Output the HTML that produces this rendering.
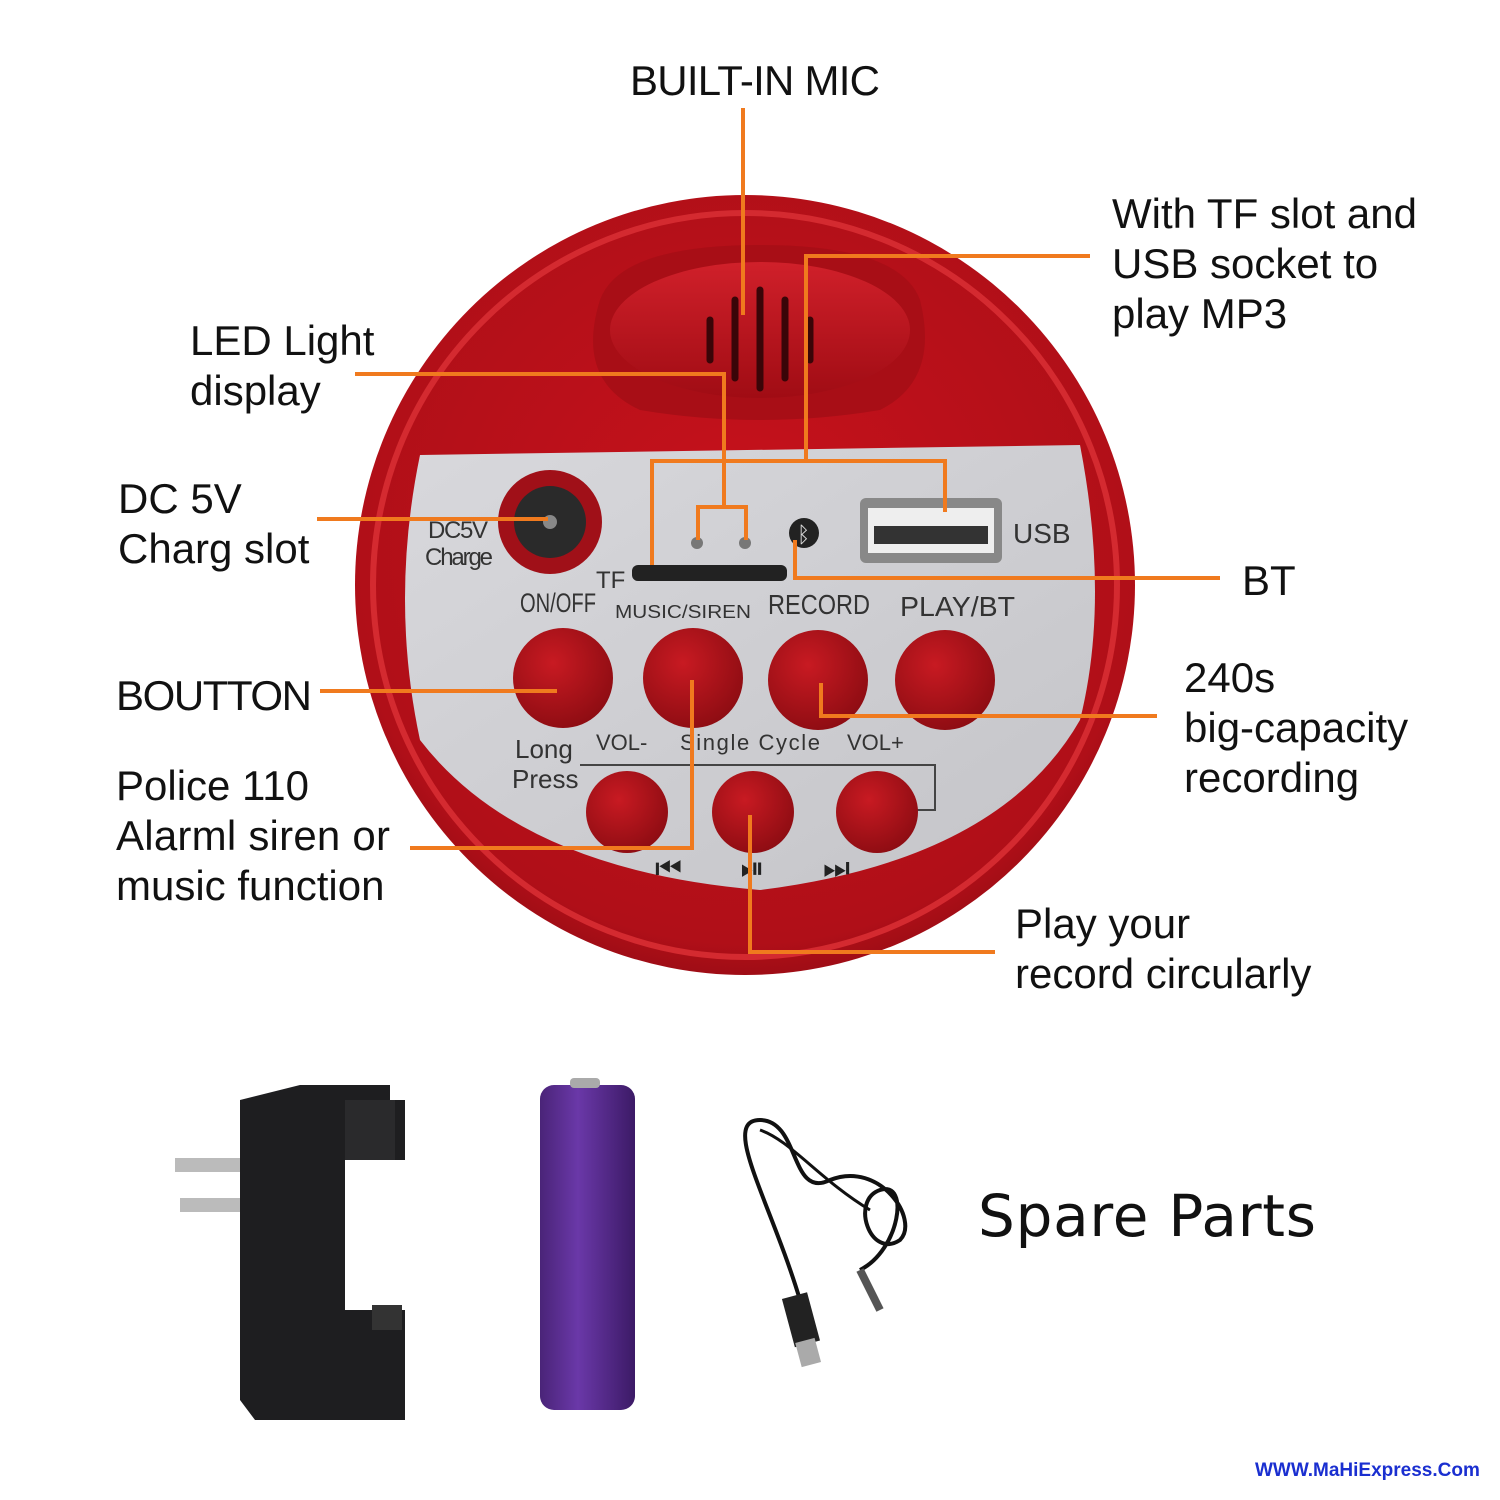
<!DOCTYPE html>
<html><head><meta charset="utf-8"><style>
html,body{margin:0;padding:0;background:#fff}
svg{display:block}
.t{font-family:"Liberation Sans",sans-serif;font-size:42px;fill:#111}
.s{font-family:"Liberation Sans",sans-serif;fill:#333}
.o{stroke:#f07a1e;stroke-width:4;fill:none}
</style></head><body>
<svg width="1500" height="1500" viewBox="0 0 1500 1500">
<defs>
<radialGradient id="rg" cx="0.5" cy="0.45" r="0.6"><stop offset="0" stop-color="#c8121c"/><stop offset="0.85" stop-color="#b00f18"/><stop offset="1" stop-color="#8a0a12"/></radialGradient>
<radialGradient id="bt" cx="0.4" cy="0.35" r="0.7"><stop offset="0" stop-color="#c81a22"/><stop offset="1" stop-color="#8c0c12"/></radialGradient>
<linearGradient id="sv" x1="0" y1="0" x2="1" y2="1"><stop offset="0" stop-color="#d8d8dc"/><stop offset="1" stop-color="#c4c4c8"/></linearGradient>
<linearGradient id="pur" x1="0" x2="1"><stop offset="0" stop-color="#4a2478"/><stop offset="0.4" stop-color="#6a38a8"/><stop offset="1" stop-color="#3c1a66"/></linearGradient>
<linearGradient id="mo" x1="0" y1="0" x2="0" y2="1"><stop offset="0" stop-color="#d0202a"/><stop offset="1" stop-color="#a00c14"/></linearGradient>
</defs>
<circle cx="745" cy="585" r="390" fill="url(#rg)"/>
<circle cx="745" cy="585" r="372" fill="none" stroke="#d42a30" stroke-width="6"/>
<path d="M600 300 Q620 245 760 245 Q900 245 920 300 Q940 380 880 410 Q760 430 640 410 Q575 380 600 300 Z" fill="#a80e16"/>
<ellipse cx="760" cy="330" rx="150" ry="68" fill="url(#mo)"/>
<g stroke="#3a0508" stroke-width="7" stroke-linecap="round">
<line x1="710" y1="320" x2="710" y2="360"/><line x1="735" y1="300" x2="735" y2="378"/><line x1="760" y1="290" x2="760" y2="388"/><line x1="785" y1="300" x2="785" y2="378"/><line x1="810" y1="320" x2="810" y2="360"/></g>
<path d="M420 455 L1080 445 Q1110 600 1080 720 Q1000 860 760 890 Q520 870 420 740 Q390 600 420 455 Z" fill="url(#sv)"/>
<circle cx="550" cy="522" r="52" fill="#a01018"/>
<circle cx="550" cy="522" r="36" fill="#2a2a2a"/>
<circle cx="550" cy="522" r="7" fill="#888"/>
<text class="s" x="428" y="538" font-size="24" textLength="60">DC5V</text>
<text class="s" x="425" y="565" font-size="24" textLength="68">Charge</text>
<circle cx="697" cy="543" r="6" fill="#777"/><circle cx="745" cy="543" r="6" fill="#777"/>
<rect x="632" y="565" width="155" height="16" rx="6" fill="#222"/>
<text class="s" x="596" y="588" font-size="24">TF</text>
<circle cx="804" cy="533" r="15" fill="#222"/><text x="797" y="542" font-size="22" fill="#ddd" font-family="DejaVu Sans">ᛒ</text>
<rect x="860" y="498" width="142" height="65" rx="6" fill="#888"/>
<rect x="868" y="508" width="126" height="45" fill="#eee"/>
<rect x="874" y="526" width="114" height="18" fill="#333"/>
<text class="s" x="1013" y="543" font-size="28">USB</text>
<text class="s" x="520" y="612" font-size="27" textLength="76" lengthAdjust="spacingAndGlyphs">ON/OFF</text>
<text class="s" x="615" y="618" font-size="18" textLength="136" lengthAdjust="spacingAndGlyphs">MUSIC/SIREN</text>
<text class="s" x="768" y="614" font-size="28" textLength="102" lengthAdjust="spacingAndGlyphs">RECORD</text>
<text class="s" x="900" y="616" font-size="28" textLength="115" lengthAdjust="spacingAndGlyphs">PLAY/BT</text>
<text class="s" x="515" y="758" font-size="26">Long</text>
<text class="s" x="512" y="788" font-size="26">Press</text>
<text class="s" x="596" y="750" font-size="22">VOL-</text>
<text class="s" x="680" y="750" font-size="22" textLength="140">Single Cycle</text>
<text class="s" x="847" y="750" font-size="22">VOL+</text>
<path d="M580 765 H935 V810 H915" stroke="#444" stroke-width="2" fill="none"/>
<g fill="url(#bt)">
<circle cx="563" cy="678" r="50"/><circle cx="693" cy="678" r="50"/><circle cx="818" cy="680" r="50"/><circle cx="945" cy="680" r="50"/>
<circle cx="627" cy="812" r="41"/><circle cx="753" cy="812" r="41"/><circle cx="877" cy="812" r="41"/></g>
<text x="655" y="878" font-size="30" fill="#222" font-family="DejaVu Sans" textLength="195">⏮ ⏯ ⏭</text>
<g class="o">
<path d="M743 108 V315"/>
<path d="M1090 256 H806 V461 M652 565 V461 H945 V512"/>
<path d="M355 374 H724 V507 M698 540 V507 H746 V540"/>
<path d="M317 519 H548"/>
<path d="M795 540 V578 H1220"/>
<path d="M320 691 H557"/>
<path d="M410 848 H692 V680"/>
<path d="M821 683 V716 H1157"/>
<path d="M750 815 V952 H995"/>
</g>
<text class="t" x="630" y="95" textLength="250">BUILT-IN MIC</text>
<text class="t" x="1112" y="228">With TF slot and</text>
<text class="t" x="1112" y="278">USB socket to</text>
<text class="t" x="1112" y="328">play MP3</text>
<text class="t" x="190" y="355">LED Light</text>
<text class="t" x="190" y="405">display</text>
<text class="t" x="118" y="513">DC 5V</text>
<text class="t" x="118" y="563">Charg slot</text>
<text class="t" x="1242" y="595">BT</text>
<text class="t" x="116" y="710" textLength="196">BOUTTON</text>
<text class="t" x="1184" y="692">240s</text>
<text class="t" x="1184" y="742">big-capacity</text>
<text class="t" x="1184" y="792">recording</text>
<text class="t" x="116" y="800">Police 110</text>
<text class="t" x="116" y="850" textLength="274">Alarml siren or</text>
<text class="t" x="116" y="900">music function</text>
<text class="t" x="1015" y="938">Play your</text>
<text class="t" x="1015" y="988">record circularly</text>
<rect x="175" y="1158" width="70" height="14" fill="#bbb"/><rect x="180" y="1198" width="65" height="14" fill="#bbb"/>
<path d="M240 1100 L300 1085 H390 V1100 H405 V1160 H345 V1310 H405 V1420 H255 L240 1400 Z" fill="#1e1e20"/>
<rect x="345" y="1100" width="50" height="60" fill="#2a2a2c"/>
<rect x="372" y="1305" width="30" height="25" fill="#333"/>
<rect x="540" y="1085" width="95" height="325" rx="14" fill="url(#pur)"/>
<rect x="570" y="1078" width="30" height="10" rx="4" fill="#aaa"/>
<path d="M800 1300 C770 1200 720 1120 760 1120 C800 1120 790 1200 830 1180 C880 1160 920 1220 900 1240 C870 1260 850 1200 880 1190 C910 1180 900 1250 860 1270" stroke="#111" stroke-width="4" fill="none"/>
<path d="M760 1130 C790 1140 820 1180 870 1210" stroke="#111" stroke-width="3" fill="none"/>
<rect x="788" y="1295" width="26" height="50" fill="#222" transform="rotate(-15 800 1320)"/>
<rect x="798" y="1340" width="20" height="25" fill="#aaa" transform="rotate(-15 808 1352)"/>
<path d="M860 1270 L880 1310" stroke="#555" stroke-width="8"/>
<text x="978" y="1236" font-family="DejaVu Sans,sans-serif" font-size="58" fill="#111" textLength="338">Spare Parts</text>
<text x="1255" y="1476" font-family="Liberation Sans,sans-serif" font-size="19" font-weight="bold" fill="#1a2fd0">WWW.MaHiExpress.Com</text>
</svg>
</body></html>
